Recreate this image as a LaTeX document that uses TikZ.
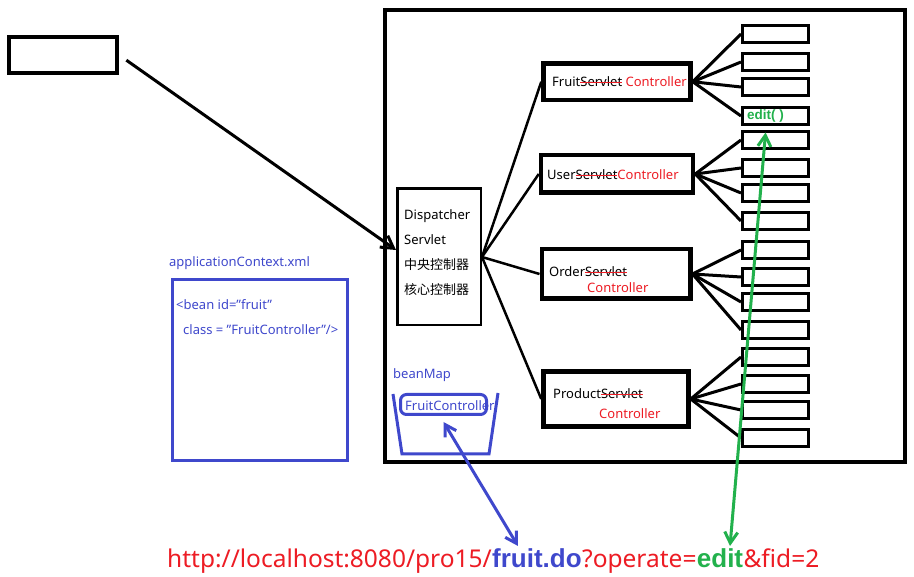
\documentclass[tikz,border=0pt]{standalone}
\usepackage{fontspec}
\setmainfont{Noto Sans}
\newfontfamily\heavy{Liberation Sans}
\newfontfamily\cjk{Noto Sans CJK SC}
\usepackage{tikz}
\usetikzlibrary{arrows.meta, positioning}
\definecolor{pred}{RGB}{237,28,36}
\definecolor{pblue}{RGB}{63,72,204}
\definecolor{pgreen}{RGB}{34,177,76}
\newcommand\redout[1]{\sbox0{#1}\usebox0\llap{\textcolor{pred}{\rule[0.55ex]{\wd0}{1.1pt}}}}
\newcommand\dq{\symbol{34}}
\tikzstyle{frame} = [rectangle, draw=black, line width=4pt, inner sep=0pt]
\tikzstyle{ctrl} = [rectangle, draw=black, line width=4.5pt, inner sep=0pt]
\tikzstyle{method} = [rectangle, draw=black, line width=3pt, inner sep=0pt, minimum width=66pt, minimum height=17pt]
\tikzstyle{txt} = [anchor=west, inner sep=0pt, font=\fontsize{13}{15}\selectfont]
\tikzstyle{bluebox} = [rectangle, draw=pblue, line width=3pt, inner sep=0pt]
\tikzstyle{urlpart} = [inner sep=0pt, font=\fontsize{24.5}{28}\selectfont]
\tikzstyle{urlbold} = [inner sep=0pt, font=\fontsize{26}{28}\selectfont\heavy\bfseries]
\tikzstyle{line} = [line width=3pt]
\tikzstyle{arrow} = [line width=3pt, -{Straight Barb[length=12pt,width=14pt]}]
\tikzstyle{twoway} = [line width=3pt, {Straight Barb[length=11pt,width=13pt]}-{Straight Barb[length=11pt,width=13pt]}]

\begin{document}
\begin{tikzpicture}[x=1pt, y=-1pt]
\useasboundingbox (0,0) rectangle (914,577);
\fill[white] (0,0) rectangle (914,577);

\node (client) [frame, minimum width=108pt, minimum height=36pt] at (63,55) {};
\node (server) [frame, minimum width=520pt, minimum height=452pt] at (645,236) {};

\node (disp) [rectangle, draw=black, line width=2.5pt, inner sep=0pt, minimum width=83.5pt, minimum height=136.5pt] at (439,257) {};
\node (disptxt) [txt, align=left, font=\fontsize{13}{25}\selectfont] at (404,252.5) {Dispatcher\\Servlet\\{\cjk 中央控制器}\\{\cjk 核心控制器}};

\node (fruit) [ctrl, minimum width=147pt, minimum height=36.5pt] at (617,81.75) {};
\node (user) [ctrl, minimum width=152pt, minimum height=37.5pt] at (617,174) {};
\node (order) [ctrl, minimum width=148.5pt, minimum height=49.5pt] at (616,274) {};
\node (product) [ctrl, minimum width=145pt, minimum height=55pt] at (616,399) {};

\node (fruittxt) [txt] at (552,82) {Fruit\redout{Servlet} \textcolor{pred}{Controller}};
\node (usertxt) [txt] at (547,175) {User\redout{Servlet}\textcolor{pred}{Controller}};
\node (ordertxt) [txt] at (549,272) {Order\redout{Servlet}};
\node (ordertxt2) [txt, text=pred] at (587,288) {Controller};
\node (producttxt) [txt] at (553,394) {Product\redout{Servlet}};
\node (producttxt2) [txt, text=pred] at (599,414) {Controller};

\node (m1) [method] at (775.5,34) {};
\node (m2) [method] at (775.5,62) {};
\node (m3) [method] at (775.5,87) {};
\node (m4) [method] at (775.5,116) {};
\node (m5) [method] at (775.5,140) {};
\node (m6) [method] at (775.5,168) {};
\node (m7) [method] at (775.5,193) {};
\node (m8) [method] at (775.5,221) {};
\node (m9) [method] at (775.5,250) {};
\node (m10) [method] at (775.5,277) {};
\node (m11) [method] at (775.5,302) {};
\node (m12) [method] at (775.5,330) {};
\node (m13) [method] at (775.5,357) {};
\node (m14) [method] at (775.5,384) {};
\node (m15) [method] at (775.5,410) {};
\node (m16) [method] at (775.5,438) {};
\node (edittxt) [txt, text=pgreen, font=\fontsize{13.5}{15}\selectfont\heavy\bfseries] at (747,116) {edit( )};

\node (ctxlabel) [txt, text=pblue] at (169,263) {applicationContext.xml};
\node (ctx) [bluebox, minimum width=175pt, minimum height=181pt] at (260,370) {};
\node (bean1) [txt, text=pblue] at (176,305) {<bean id=\dq fruit\dq};
\node (bean2) [txt, text=pblue] at (183,330) {class = \dq FruitController\dq/>};

\node (maplabel) [txt, text=pblue] at (393,375) {beanMap};
\draw [draw=pblue, line width=3pt] (393,394) -- (402,454) -- (489,454) -- (498,393);
\node (fcbox) [bluebox, rounded corners=6pt, minimum width=86pt, minimum height=20pt] at (443.5,404.5) {};
\node (fctxt) [txt, text=pblue] at (405,406) {FruitController};

\node (urlhost) [urlpart, text=pred, anchor=base west] at (167,567) {http://localhost:8080/pro15/};
\node (urlfruit) [urlbold, text=pblue, base right=0pt of urlhost] {fruit.do};
\node (urlop) [urlpart, text=pred, base right=0pt of urlfruit] {?operate=};
\node (urledit) [urlbold, text=pgreen, base right=0pt of urlop] {edit};
\node (urlfid) [urlpart, text=pred, base right=0pt of urledit] {\&fid=2};

\draw [arrow, shorten <=9pt] (client.east) -- ([yshift=7pt]disp.west);

\draw [line width=2.5pt] (disp.east) -- (fruit.west);
\draw [line width=2.5pt] (disp.east) -- (user.west);
\draw [line width=2.5pt] (disp.east) -- (order.west);
\draw [line width=2.5pt] (disp.east) -- (product.west);

\draw [line] (fruit.east) -- (m1.west);
\draw [line] (fruit.east) -- (m2.west);
\draw [line] (fruit.east) -- (m3.west);
\draw [line] (fruit.east) -- (m4.west);
\draw [line] (user.east) -- (m5.west);
\draw [line] (user.east) -- (m6.west);
\draw [line] (user.east) -- (m7.west);
\draw [line] (user.east) -- (m8.west);
\draw [line] (order.east) -- (m9.west);
\draw [line] (order.east) -- (m10.west);
\draw [line] (order.east) -- (m11.west);
\draw [line] (order.east) -- (m12.west);
\draw [line] (product.east) -- (m13.west);
\draw [line] (product.east) -- (m14.west);
\draw [line] (product.east) -- (m15.west);
\draw [line] (product.east) -- (m16.west);

\draw [twoway, draw=pblue] ([yshift=-6pt]fcbox.south) -- ([xshift=-19pt,yshift=2pt]urlfruit.north);
\draw [twoway, draw=pgreen] ([yshift=-10pt]edittxt.south) -- ([xshift=10pt,yshift=2pt]urledit.north);
\end{tikzpicture}
\end{document}
